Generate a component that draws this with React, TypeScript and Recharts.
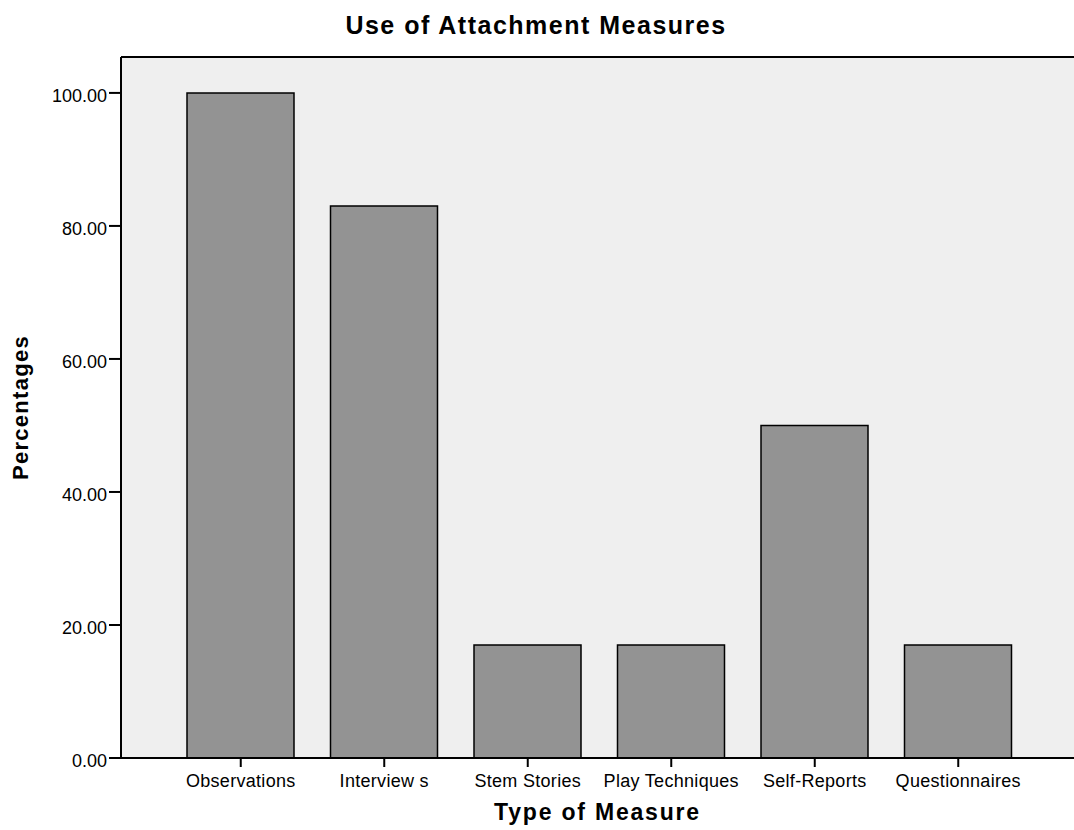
import React from "react";
import { BarChart, Bar, XAxis, YAxis, CartesianGrid, ReferenceLine } from "recharts";

const categories = ["Observations", "Interview s", "Stem Stories", "Play Techniques", "Self-Reports", "Questionnaires"];
const percentages = [100, 83, 17, 17, 50, 17];
const yTicks = [0, 20, 40, 60, 80, 100];
const Y_MAX = 105.4;

const data = categories.map((name, i) => ({ name, value: percentages[i] }));

const FONT = "'Liberation Sans', Arial, sans-serif";

export default function App() {
  return (
    <div style={{ position: "absolute", left: 0, top: 0, width: 1074, height: 830, background: "#fff", fontFamily: FONT }}>
      <svg width={1074} height={830} style={{ position: "absolute", left: 0, top: 0, pointerEvents: "none" }}>
        <text x={536} y={34} textAnchor="middle" fontFamily={FONT} fontWeight="bold" fontSize={25} letterSpacing={1.5} fill="#000">
          Use of Attachment Measures
        </text>
      </svg>
      <div style={{ position: "absolute", left: 0, top: 0 }}>
        <BarChart width={1074} height={830} data={data} margin={{ top: 57, right: 0, bottom: 0, left: 0 }}>
          <CartesianGrid fill="#efefef" horizontal={false} vertical={false} />
          <XAxis
            dataKey="name"
            height={72}
            padding={{ left: 48, right: 44 }}
            tickSize={9}
            tickMargin={7}
            axisLine={{ stroke: "#000", strokeWidth: 2 }}
            tickLine={{ stroke: "#000", strokeWidth: 2 }}
            tick={{ fill: "#000", fontSize: 18, fontFamily: FONT, letterSpacing: 0.3 }}
            interval={0}
            label={{
              value: "Type of Measure",
              position: "insideBottom",
              offset: 10,
              style: { fontFamily: FONT, fontWeight: "bold", fontSize: 23, letterSpacing: 1.8, fill: "#000" },
            }}
          />
          <YAxis
            width={121}
            domain={[0, Y_MAX]}
            ticks={yTicks}
            tickFormatter={(v: number) => v.toFixed(2)}
            tickSize={12}
            tickMargin={2}
            axisLine={{ stroke: "#000", strokeWidth: 2 }}
            tickLine={{ stroke: "#000", strokeWidth: 2 }}
            tick={{ fill: "#000", fontSize: 18, fontFamily: FONT, dy: 3 }}
            allowDataOverflow
            label={{
              value: "Percentages",
              angle: -90,
              position: "insideLeft",
              offset: 20,
              style: { textAnchor: "middle", fontFamily: FONT, fontWeight: "bold", fontSize: 22, letterSpacing: 1.3, fill: "#000" },
            }}
          />
          <ReferenceLine y={Y_MAX} stroke="#000" strokeWidth={2} />
          <Bar dataKey="value" fill="#939393" stroke="#000" strokeWidth={1.5} barSize={107} isAnimationActive={false} />
        </BarChart>
      </div>
    </div>
  );
}
